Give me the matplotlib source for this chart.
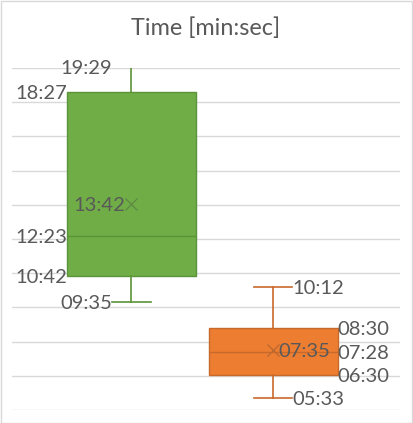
import matplotlib
matplotlib.use("Agg")
import matplotlib.pyplot as plt
from matplotlib.patches import Rectangle

title = "Time [min:sec]"
series = ["Green", "Orange"]
# values in mm:ss
mins = ["09:35", "05:33"]
q1s = ["10:42", "06:30"]
medians = ["12:23", "07:28"]
means = ["13:42", "07:35"]
q3s = ["18:27", "08:30"]
maxs = ["19:29", "10:12"]
face_colors = ["#70AD47", "#ED7D31"]
edge_colors = ["#5B9337", "#C8692C"]
mean_colors = ["#5E8A44", "#B9682F"]


def to_days(s):
    m, sec = s.split(":")
    return (int(m) * 60 + int(sec)) / 86400.0


plt.rcParams['font.family'] = ['Lato', 'DejaVu Sans']
W, H = 413, 423
fig = plt.figure(figsize=(W / 100, H / 100), dpi=100)
ax = fig.add_axes([12 / W, 1 - 410 / H, (400 - 12) / W, (410 - 68) / H])

positions = [0, 1]
width = 0.908
stats = []
for i in range(2):
    stats.append(dict(med=to_days(medians[i]), q1=to_days(q1s[i]), q3=to_days(q3s[i]),
                      whislo=to_days(mins[i]), whishi=to_days(maxs[i]), mean=to_days(means[i]),
                      fliers=[], label=series[i]))

for i in range(2):
    bp = ax.bxp([stats[i]], positions=[positions[i]], widths=width, patch_artist=True,
                showmeans=True, showfliers=False,
                boxprops=dict(facecolor=face_colors[i], edgecolor=edge_colors[i], linewidth=1.0),
                medianprops=dict(color=edge_colors[i], linewidth=1.0),
                whiskerprops=dict(color=edge_colors[i], linewidth=1.2),
                capprops=dict(color=edge_colors[i], linewidth=1.2),
                meanprops=dict(marker='x', markeredgecolor=mean_colors[i], markersize=9,
                               markeredgewidth=0.9),
                capwidths=0.27)

ax.set_xlim(-0.8415, 1.894)
ax.set_ylim(0.0035, 0.0135)
ax.set_yticks([0.0035 + 0.001 * k for k in range(11)])
ax.yaxis.grid(True, color="#D9D9D9", linewidth=1.0)
ax.set_axisbelow(True)
ax.tick_params(left=False, bottom=False, labelleft=False, labelbottom=False)
for s in ax.spines.values():
    s.set_visible(False)

fs = 14.5
tc = "#595959"
half = width / 2
capw = 0.27 / 2
va = 'center_baseline'
# green labels (left side)
i = 0
p = positions[i]
ax.text(p - capw, to_days(maxs[i]), maxs[i], ha='right', va=va, fontsize=fs, color=tc)
ax.text(p - half, to_days(q3s[i]), q3s[i], ha='right', va=va, fontsize=fs, color=tc)
ax.text(p - 0.04, to_days(means[i]), means[i], ha='right', va=va, fontsize=fs, color=tc)
ax.text(p - half, to_days(medians[i]), medians[i], ha='right', va=va, fontsize=fs, color=tc)
ax.text(p - half, to_days(q1s[i]), q1s[i], ha='right', va=va, fontsize=fs, color=tc)
ax.text(p - capw, to_days(mins[i]), mins[i], ha='right', va=va, fontsize=fs, color=tc)
# orange labels (right side)
i = 1
p = positions[i]
ax.text(p + capw, to_days(maxs[i]), maxs[i], ha='left', va=va, fontsize=fs, color=tc)
ax.text(p + half, to_days(q3s[i]), q3s[i], ha='left', va=va, fontsize=fs, color=tc)
ax.text(p + 0.04, to_days(means[i]), means[i], ha='left', va=va, fontsize=fs, color=tc)
ax.text(p + half, to_days(medians[i]), medians[i], ha='left', va=va, fontsize=fs, color=tc)
ax.text(p + half, to_days(q1s[i]), q1s[i], ha='left', va=va, fontsize=fs, color=tc)
ax.text(p + capw, to_days(mins[i]), mins[i], ha='left', va=va, fontsize=fs, color=tc)

fig.text(206 / W, 1 - 28 / H, title, ha='center', va='center', fontsize=16.8, color=tc)
fig.patches.append(Rectangle((0.5 / W, 0.5 / H), 1 - 1.5 / W, 1 - 1.5 / H, transform=fig.transFigure,
                             fill=False, edgecolor="#D9D9D9", linewidth=1.0))

fig.savefig("out.png", dpi=100)
